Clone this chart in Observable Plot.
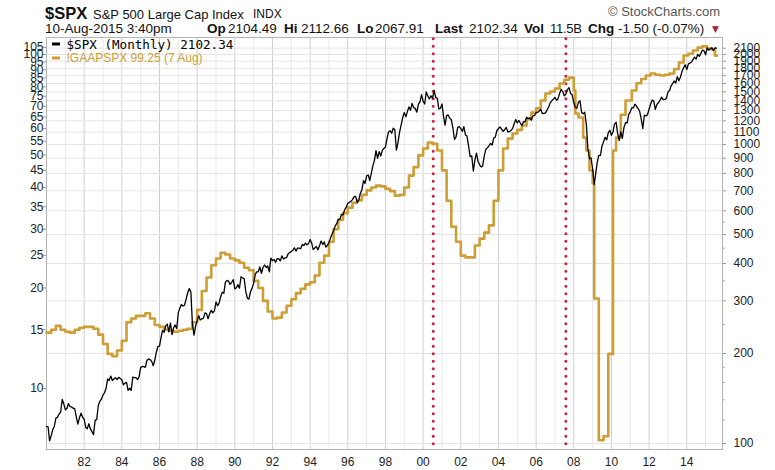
<!DOCTYPE html>
<html><head><meta charset="utf-8">
<script src="https://cdn.jsdelivr.net/npm/d3@7"></script>
<script src="https://cdn.jsdelivr.net/npm/@observablehq/plot@0.6"></script>
<style>
body{margin:0;background:#fff;}
#wrap{position:relative;width:775px;height:470px;overflow:hidden;font-family:"Liberation Sans",Arial,sans-serif;background:#fff;}
#head{position:relative;width:775px;height:36px;}
#head span{position:absolute;white-space:nowrap;line-height:1;color:#111;}
#head .b{font-weight:bold;}
#head .v{font-size:13.5px;top:21.6px;}
</style></head><body>
<div id="wrap">
<div id="head">
  <span class="b" style="left:45px;top:4.5px;font-size:16.5px">$SPX</span>
  <span style="left:93px;top:7.5px;font-size:13px">S&amp;P 500 Large Cap Index</span>
  <span style="left:253px;top:8.3px;font-size:12px">INDX</span>
  <span style="left:608px;top:5px;font-size:13px;color:#555">© StockCharts.com</span>
  <span class="v" style="left:45px">10-Aug-2015 3:40pm</span>
  <span class="v b" style="left:207px">Op</span><span class="v" style="left:228px">2104.49</span>
  <span class="v b" style="left:284px">Hi</span><span class="v" style="left:301px">2112.66</span>
  <span class="v b" style="left:357px">Lo</span><span class="v" style="left:375px">2067.91</span>
  <span class="v b" style="left:435px">Last</span><span class="v" style="left:469px">2102.34</span>
  <span class="v b" style="left:524px">Vol</span><span class="v" style="left:550px;font-size:13px;letter-spacing:-0.3px">11.5B</span>
  <span class="v b" style="left:588px">Chg</span><span class="v" style="left:618px">-1.50 (-0.07%)</span>
  <span style="left:712px;top:25px;font-size:9px;color:#a3213c;font-family:'DejaVu Sans'">▼</span>
</div>
<div id="chart"></div>
</div>
<script>
// ---- data ----
const spxStartYear = 1980; // monthly closes from Jan 1980
const spxClose = [
114.16,113.66,102.09,106.29,111.24,114.24,121.67,122.38,125.46,127.47,140.52,135.76,
129.55,131.27,136.00,132.81,132.59,131.21,130.92,122.79,116.18,121.89,126.35,122.55,
120.40,113.11,111.96,116.44,111.88,109.61,107.09,119.51,120.42,133.71,138.54,140.64,
145.30,148.06,152.96,164.42,162.39,168.11,162.56,164.40,166.07,163.55,166.40,164.93,
163.41,157.06,159.18,160.05,150.55,153.18,150.66,166.68,166.10,166.09,163.58,167.24,
179.63,181.18,180.66,179.83,189.55,191.85,190.92,188.63,182.08,189.82,202.17,211.28,
211.78,226.92,238.90,235.52,247.35,250.84,236.12,252.93,231.32,243.98,249.22,242.17,
274.08,284.20,291.70,288.36,290.10,304.00,318.66,329.80,321.83,251.79,230.30,247.08,
257.07,267.82,258.89,261.33,262.16,273.50,272.02,261.52,271.91,278.97,273.70,277.72,
297.47,288.86,294.87,309.64,320.52,317.98,346.08,351.45,349.15,340.36,345.99,353.40,
329.08,331.89,339.94,330.80,361.23,358.02,356.15,322.56,306.05,304.00,322.22,330.22,
343.93,367.07,375.22,375.35,389.83,371.16,387.81,395.43,387.86,392.46,375.22,417.09,
408.79,412.70,403.69,414.95,415.35,408.14,424.21,414.03,417.80,418.68,431.35,435.71,
438.78,443.38,451.67,440.19,450.19,450.53,448.13,463.56,458.93,467.83,461.79,466.45,
481.61,467.14,445.77,450.91,456.50,444.27,458.26,475.49,462.69,472.35,453.69,459.27,
470.42,487.39,500.71,514.71,533.40,544.75,562.06,561.88,584.41,581.50,605.37,615.93,
636.02,640.43,645.50,654.17,669.12,670.63,639.95,651.99,687.31,705.27,757.02,740.74,
786.16,790.82,757.12,801.34,848.28,885.14,954.29,899.47,947.28,914.62,955.40,970.43,
980.28,1049.34,1101.75,1111.75,1090.82,1133.84,1120.67,957.28,1017.01,1098.67,1163.63,1229.23,
1279.64,1238.33,1286.37,1335.18,1301.84,1372.71,1328.72,1320.41,1282.71,1362.93,1388.91,1469.25,
1394.46,1366.42,1498.58,1452.43,1420.60,1454.60,1430.83,1517.68,1436.51,1429.40,1314.95,1320.28,
1366.01,1239.94,1160.33,1249.46,1255.82,1224.42,1211.23,1133.58,1040.94,1059.78,1139.45,1148.08,
1130.20,1106.73,1147.39,1076.92,1067.14,989.82,911.62,916.07,815.28,885.76,936.31,879.82,
855.70,841.15,848.18,916.92,963.59,974.50,990.31,1008.01,995.97,1050.71,1058.20,1111.92,
1131.13,1144.94,1126.21,1107.30,1120.68,1140.84,1101.72,1104.24,1114.58,1130.20,1173.82,1211.92,
1181.27,1203.60,1180.59,1156.85,1191.50,1191.33,1234.18,1220.33,1228.81,1207.01,1249.48,1248.29,
1280.08,1280.66,1294.83,1310.61,1270.09,1270.20,1276.66,1303.82,1335.85,1377.94,1400.63,1418.30,
1438.24,1406.82,1420.86,1482.37,1530.62,1503.35,1455.27,1473.99,1526.75,1549.38,1481.14,1468.36,
1378.55,1330.63,1322.70,1385.59,1400.38,1280.00,1267.38,1282.83,1166.36,968.75,896.24,903.25,
825.88,735.09,797.87,872.81,919.14,919.32,987.48,1020.62,1057.08,1036.19,1095.63,1115.10,
1073.87,1104.49,1169.43,1186.69,1089.41,1030.71,1101.60,1049.33,1141.20,1183.26,1180.55,1257.64,
1286.12,1327.22,1325.83,1363.61,1345.20,1320.64,1292.28,1218.89,1131.42,1253.30,1246.96,1257.60,
1312.41,1365.68,1408.47,1397.91,1310.33,1362.16,1379.32,1406.58,1440.67,1412.16,1416.18,1426.19,
1498.11,1514.68,1569.19,1597.57,1630.74,1606.28,1685.73,1632.97,1681.55,1756.54,1805.81,1848.36,
1782.59,1859.45,1872.34,1883.95,1923.57,1960.23,1930.67,2003.37,1972.29,2018.05,2067.56,2058.90,
1994.99,2104.50,2067.89,2085.51,2107.39,2063.11,2103.84,2102.34
];

const gaapDates = [
"1980-01","1980-04","1980-07","1980-10","1981-01","1981-04","1981-07","1981-10",
"1982-01","1982-04","1982-07","1982-10","1983-01","1983-04","1983-07","1983-10",
"1984-01","1984-04","1984-07","1984-10","1985-01","1985-04","1985-07","1985-10",
"1986-01","1986-04","1986-07","1986-10","1987-01","1987-04","1987-07","1987-10",
"1988-01","1988-04","1988-07","1988-10","1989-01","1989-04","1989-07","1989-10",
"1990-01","1990-04","1990-07","1990-10","1991-01","1991-04","1991-07","1991-10",
"1992-01","1992-04","1992-07","1992-10","1993-01","1993-04","1993-07","1993-10",
"1994-01","1994-04","1994-07","1994-10","1995-01","1995-04","1995-07","1995-10",
"1996-01","1996-04","1996-07","1996-10","1997-01","1997-04","1997-07","1997-10",
"1998-01","1998-04","1998-07","1998-10","1999-01","1999-04","1999-07","1999-10",
"2000-01","2000-04","2000-07","2000-10","2001-01","2001-04","2001-07","2001-10",
"2002-01","2002-04","2002-07","2002-10","2003-01","2003-04","2003-07","2003-10",
"2004-01","2004-04","2004-07","2004-10","2005-01","2005-04","2005-07","2005-10",
"2006-01","2006-04","2006-07","2006-10","2007-01","2007-04","2007-07","2007-10",
"2008-01","2008-02","2008-04","2008-07","2008-09","2008-11","2009-01","2009-02",
"2009-05","2009-08","2009-11","2010-02","2010-04","2010-07","2010-10","2011-02",
"2011-05","2011-08","2011-11","2012-02","2012-05","2012-08","2012-11","2013-02",
"2013-05","2013-08","2013-11","2014-02","2014-05","2014-08","2014-11","2015-02",
"2015-05","2015-07","2015-08-07"
];
const gaapValues = [
14.7,15.0,15.4,15.0,14.8,14.7,15.0,15.2,
15.3,15.3,15.1,14.5,13.6,12.7,12.5,13.0,
13.9,15.8,16.2,16.5,16.5,16.8,16.2,15.5,
15.3,15.0,14.9,14.8,14.9,15.0,15.1,15.8,
17.2,19.6,21.5,23.4,24.5,25.5,25.2,24.5,
24.2,23.8,23.0,22.6,21.0,20.0,18.3,17.0,
16.2,16.3,16.9,17.7,18.5,19.3,19.9,20.5,
20.8,21.8,23.8,25.0,27.5,30.0,32.0,33.5,
34.8,36.0,36.6,38.0,39.2,40.0,40.5,40.3,
39.6,39.0,37.8,38.0,40.0,43.4,46.0,49.9,
52.3,54.5,54.0,51.6,45.0,36.5,30.5,27.5,
25.0,24.7,24.7,26.8,28.1,29.3,30.8,36.5,
45.0,52.3,56.0,58.0,59.5,61.3,64.0,67.0,
69.0,72.8,76.4,77.5,79.1,81.9,84.0,85.3,
78.0,66.6,64.8,56.4,51.6,45.0,41.1,18.6,
7.0,7.2,12.7,51.6,56.4,66.0,72.8,78.0,
82.0,84.5,86.5,87.7,87.0,86.5,87.0,87.7,
90.5,94.6,99.3,100.5,102.8,104.9,105.8,104.2,
103.5,99.25,99.25
];

const rightTicks = d3.range(100, 2200, 100);
const rightMinorTicks = [120, 140, 160, 180, 250, 350, 450, 550];
const leftTicks = d3.range(10, 110, 5);
const recessionMarks = ["2000-07-15", "2007-08-01"];
const legendLabels = ["$SPX (Monthly) 2102.34", "!GAAPSPX 99.25 (7 Aug)"];
const legendColors = ["#000000", "#cf9d35"];
// left (GAAP) axis alignment: left 10 sits where right 152.7 sits; left 100 where right 2000 sits
const gaapAlignLeft = [10, 100];
const gaapAlignRight = [152.7, 2000];

// ---- build ----
const parse = s => { const [y, m, d] = s.split("-").map(Number); return new Date(Date.UTC(y, m - 1, d || 1)); };
const spx = spxClose.map((v, i) => ({date: new Date(Date.UTC(spxStartYear + Math.floor(i / 12), i % 12, 1)), v}));
const gaap = gaapDates.map((d, i) => ({date: parse(d), v: gaapValues[i]}));

const bExp = Math.log(gaapAlignRight[1] / gaapAlignRight[0]) / Math.log(gaapAlignLeft[1] / gaapAlignLeft[0]);
const toRight = g => gaapAlignRight[0] * Math.pow(g / gaapAlignLeft[0], bExp);
const fromRight = s => gaapAlignLeft[0] * Math.pow(s / gaapAlignRight[0], 1 / bExp);

const allYears = d3.range(1980, 2016).map(y => new Date(Date.UTC(y, 0, 1)));
const oddYears = allYears.filter(d => d.getUTCFullYear() % 2 === 1);
const evenYears = allYears.filter(d => d.getUTCFullYear() % 2 === 0);
const labelYears = evenYears.filter(d => d.getUTCFullYear() >= 1982);

const gold = legendColors[1];

function swatches(index, scales, values, dims) {
  const g = d3.create("svg:g");
  legendColors.forEach((c, i) => {
    g.append("line")
      .attr("x1", dims.marginLeft + 6).attr("x2", dims.marginLeft + 14)
      .attr("y1", dims.marginTop + 7 + 14 * i).attr("y2", dims.marginTop + 7 + 14 * i)
      .attr("stroke", c).attr("stroke-width", 3);
  });
  return g.node();
}

const chart = Plot.plot({
  width: 775,
  height: 434,
  marginTop: 1,
  marginBottom: 21,
  marginLeft: 46,
  marginRight: 53,
  x: {type: "utc", domain: [new Date(Date.UTC(1980, 0, 1)), new Date(Date.UTC(2015, 10, 25))], axis: null},
  y: {type: "log", domain: [95.5, 2280], axis: null},
  style: {fontFamily: "'Liberation Sans', Arial, sans-serif", fontSize: "12px", color: "#222", background: "#fff"},
  marks: [
    Plot.gridX(oddYears, {stroke: "#e8e8e8", strokeOpacity: 1}),
    Plot.gridX(evenYears, {stroke: "#d0d0d0", strokeOpacity: 1}),
    Plot.gridY(rightTicks, {stroke: "#e4e4e4", strokeOpacity: 1}),
    Plot.frame({stroke: "#b4b4b4"}),
    Plot.ruleX(recessionMarks.map(parse), {stroke: "#cc1f3c", strokeWidth: 3, strokeDasharray: "0,7.5", strokeLinecap: "round", y1: 2250, y2: 97}),
    Plot.line(gaap, {x: "date", y: d => toRight(d.v), stroke: gold, strokeWidth: 2.6, curve: "step-after"}),
    Plot.line(spx, {x: "date", y: "v", stroke: "#000", strokeWidth: 1.3}),
    Plot.axisY(rightTicks, {anchor: "right", tickSize: 3, tickPadding: 8, stroke: "#999", fill: "#222", tickFormat: d => String(d), label: null}),
    Plot.axisY(rightMinorTicks, {anchor: "right", tickSize: 2, stroke: "#aaa", tickFormat: () => "", label: null}),
    Plot.axisY(leftTicks.map(toRight), {anchor: "left", tickSize: 3, tickPadding: 0, stroke: "#999", fill: "#222", tickFormat: d => String(Math.round(fromRight(d))), label: null}),
    Plot.axisX(labelYears, {tickSize: 0, tickPadding: 8, fill: "#222", tickFormat: d => String(d.getUTCFullYear()).slice(2), label: null}),
    swatches,
    Plot.text([legendLabels[0]], {frameAnchor: "top-left", dx: 20, dy: 7, text: d => d, textAnchor: "start", lineAnchor: "middle", fontFamily: "'DejaVu Sans Mono', monospace", fontSize: 12.6, fill: "#000"}),
    Plot.text([legendLabels[1]], {frameAnchor: "top-left", dx: 20, dy: 21, text: d => d, textAnchor: "start", lineAnchor: "middle", fontFamily: "'Liberation Sans', Arial, sans-serif", fontSize: 12, fill: gold})
  ]
});
document.getElementById("chart").appendChild(chart);
</script>
</body></html>
